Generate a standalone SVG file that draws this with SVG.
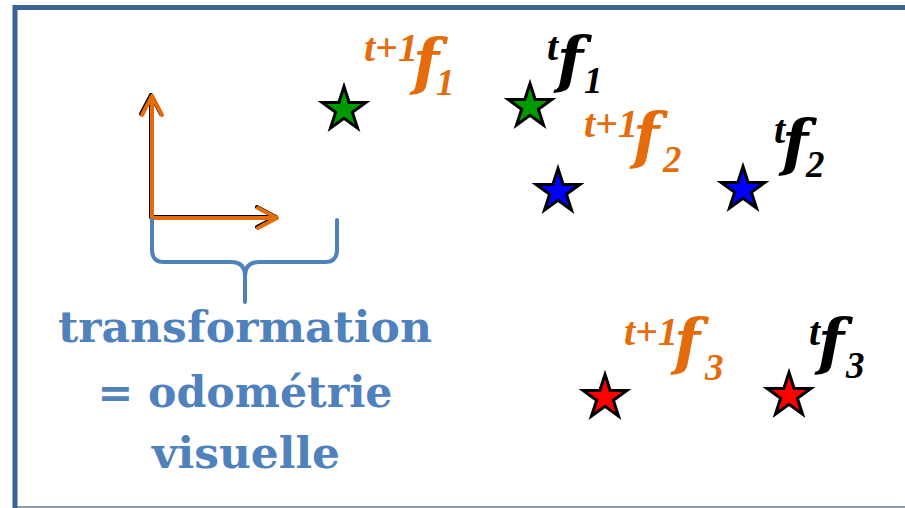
<svg xmlns="http://www.w3.org/2000/svg" width="905" height="508" viewBox="0 0 905 508">
<style>
.sup{font-family:"Liberation Serif",serif;font-weight:bold;font-style:italic;font-size:40px}
.f{font-family:"DejaVu Serif",serif;font-weight:bold;font-style:italic;font-size:61px}
.sub{font-family:"Liberation Serif",serif;font-weight:bold;font-style:italic;font-size:37px}
.or{fill:#e46c0a}
.bk{fill:#000}
.lbl{font-family:"DejaVu Serif",serif;font-weight:bold;font-size:42px;fill:#4f81bd;text-anchor:middle}
.star{stroke:#000;stroke-width:3;stroke-linejoin:miter}
.arr{fill:none;stroke:#e46c0a;stroke-width:4;stroke-linecap:round;stroke-linejoin:round}
.arrs{fill:none;stroke:#000;stroke-width:4;stroke-linecap:round;stroke-linejoin:round}
</style>
<defs>
<path id="star" d="M0,-23 L5.17,-7.12 L21.87,-7.11 L8.37,2.72 L13.52,18.61 L0,8.8 L-13.52,18.61 L-8.37,2.72 L-21.87,-7.11 L-5.17,-7.12 Z"/>
</defs>
<rect width="905" height="508" fill="#fff"/>
<g id="frame">
<line x1="15" y1="507" x2="905" y2="507" stroke="#8a9bb2" stroke-width="2"/>
<path d="M15,508 V7.5 H905" fill="none" stroke="#3d6191" stroke-width="5"/>
</g>
<g id="axes">
<g transform="translate(-1,-1)">
<path class="arrs" d="M152,218 V96 M142,115 L152,96 L162,115"/>
<path class="arrs" d="M152,218 H277 M258,208 L277,218 L258,228"/>
</g>
<path class="arr" d="M152,218 V96 M142,115 L152,96 L162,115"/>
<path class="arr" d="M152,218 H277 M258,208 L277,218 L258,228"/>
</g>
<g id="brace">
<path d="M152,220 V250 Q152,262 164,262 H231 Q245,262 245,276 V302 M245,276 Q245,262 259,262 H325 Q337,262 337,250 V220" fill="none" stroke="#4f81bd" stroke-width="4" stroke-linecap="round"/>
</g>
<g id="label">
<text class="lbl" x="245" y="342" textLength="374" lengthAdjust="spacingAndGlyphs">transformation</text>
<text class="lbl" x="245" y="407" textLength="295" lengthAdjust="spacingAndGlyphs">= odométrie</text>
<text class="lbl" x="246" y="468" textLength="188" lengthAdjust="spacingAndGlyphs">visuelle</text>
</g>
<g id="stars">
<use href="#star" class="star" x="344" y="109.5" fill="#009a00"/>
<use href="#star" class="star" x="530" y="106.5" fill="#009a00"/>
<use href="#star" class="star" x="558" y="191.5" fill="#0000ff"/>
<use href="#star" class="star" x="743" y="189.5" fill="#0000ff"/>
<use href="#star" class="star" x="605" y="397.5" fill="#ff0000"/>
<use href="#star" class="star" x="789" y="395.5" fill="#ff0000"/>
</g>
<g id="f1-next">
<text class="or"><tspan class="sup" x="364" y="61">t+1</tspan><tspan class="f" x="413" y="83">f</tspan><tspan class="sub" x="436" y="95">1</tspan></text>
</g>
<g id="f1-now">
<text class="bk"><tspan class="sup" x="547" y="60">t</tspan><tspan class="f" x="557" y="81">f</tspan><tspan class="sub" x="584" y="93">1</tspan></text>
</g>
<g id="f2-next">
<text class="or"><tspan class="sup" x="584" y="137">t+1</tspan><tspan class="f" x="633" y="157">f</tspan><tspan class="sub" x="663" y="172">2</tspan></text>
</g>
<g id="f2-now">
<text class="bk"><tspan class="sup" x="774" y="143">t</tspan><tspan class="f" x="782" y="164">f</tspan><tspan class="sub" x="806" y="177">2</tspan></text>
</g>
<g id="f3-next">
<text class="or"><tspan class="sup" x="624" y="345">t+1</tspan><tspan class="f" x="674" y="363">f</tspan><tspan class="sub" x="705" y="380">3</tspan></text>
</g>
<g id="f3-now">
<text class="bk"><tspan class="sup" x="809" y="345">t</tspan><tspan class="f" x="818" y="363">f</tspan><tspan class="sub" x="846" y="378">3</tspan></text>
</g>
</svg>
